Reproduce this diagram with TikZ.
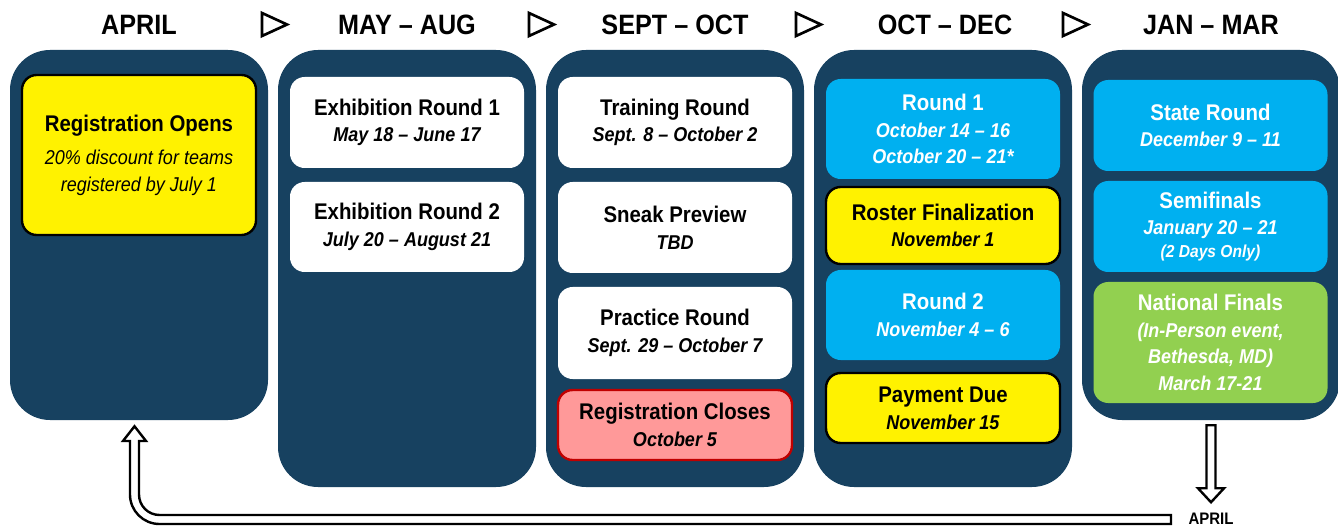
\documentclass[tikz,border=0pt]{standalone}
\usepackage{fontspec}
\setmainfont{Liberation Sans}[FakeStretch=0.9]
\usetikzlibrary{calc}
\definecolor{panelblue}{RGB}{23,65,96}
\definecolor{cyanbox}{RGB}{0,176,240}
\definecolor{greenbox}{RGB}{146,208,80}
\definecolor{pinkbox}{RGB}{255,153,153}
\definecolor{darkredline}{RGB}{192,0,0}
\newcommand\ttl{\fontsize{17}{20}\selectfont\bfseries\upshape}
\newcommand\dte{\fontsize{15}{20}\selectfont\bfseries\itshape}
\newcommand\dtn{\fontsize{15}{20}\selectfont\mdseries\itshape}
\newcommand\sml{\fontsize{13}{18}\selectfont\bfseries\itshape}
\begin{document}
\begin{tikzpicture}[x=0.75pt,y=-0.75pt,
  panel/.style={fill=panelblue, rounded corners=30pt, minimum width=193.5pt, inner sep=0pt},
  evbox/.style={rounded corners=11pt, minimum width=175.5pt, inner sep=0pt, align=center, font=\dte},
  whitebox/.style={evbox, fill=white, text=black},
  bluebox/.style={evbox, fill=cyanbox, text=white},
  greenev/.style={evbox, fill=greenbox, text=white},
  yellowbox/.style={evbox, fill=yellow, draw=black, line width=1.8pt, text=black},
  pinkev/.style={evbox, fill=pinkbox, draw=darkredline, line width=1.8pt, text=black},
  hdr/.style={anchor=base, font=\fontsize{21}{24}\selectfont\bfseries, inner sep=0pt},
  tri/.style={draw=black, line width=2pt, line join=miter},
  hollow/.style={draw=black, fill=white, line width=1.8pt, line join=miter}
]
\useasboundingbox (0,0) rectangle (1338,527);

% headers
\node[hdr] (h1) at (139,35) {APRIL};
\node[hdr] (h2) at (407,35) {MAY – AUG};
\node[hdr] (h3) at (675,35) {SEPT – OCT};
\node[hdr] (h4) at (945,35) {OCT – DEC};
\node[hdr] (h5) at (1211,35) {JAN – MAR};
\foreach \dx in {0,267,534,801}{
  \draw[tri] (262+\dx,13) -- (287+\dx,24.5) -- (262+\dx,36) -- cycle;
}

% panels
\node[panel, minimum height=277.5pt] (p1) at (139,235) {};
\node[panel, minimum height=327.75pt] (p2) at (407,268.5) {};
\node[panel, minimum height=327.75pt] (p3) at (675,268.5) {};
\node[panel, minimum height=327.75pt] (p4) at (943,268.5) {};
\node[panel, minimum height=277.5pt] (p5) at (1211,235) {};

% April
\node[yellowbox, minimum height=120pt] (regopen) at (139,155)
  {{\ttl Registration Opens}\\[5pt]{\dtn 20\% discount for teams}\\{\dtn registered by July 1}};

% May - Aug
\node[whitebox, minimum height=68.25pt] (ex1) at (407,122.5)
  {{\ttl Exhibition Round 1}\\May 18 – June 17};
\node[whitebox, minimum height=67.5pt] (ex2) at (407,227)
  {{\ttl Exhibition Round 2}\\July 20 – August 21};

% Sept - Oct
\node[whitebox, minimum height=68.25pt] (train) at (675,122.5)
  {{\ttl Training Round}\\Sept. 8 – October 2};
\node[whitebox, minimum height=68.25pt] (sneak) at (675,227.5)
  {{\ttl Sneak Preview}\\TBD};
\node[whitebox, minimum height=69pt] (pract) at (675,333)
  {{\ttl Practice Round}\\Sept. 29 – October 7};
\node[pinkev, minimum height=52.5pt] (regclose) at (675,425)
  {{\ttl Registration Closes}\\October 5};

% Oct - Dec
\node[bluebox, minimum height=75pt] (r1) at (943,129)
  {{\ttl Round 1}\\October 14 – 16\\October 20 – 21*};
\node[yellowbox, minimum height=57.75pt] (roster) at (943,225.5)
  {{\ttl Roster Finalization}\\November 1};
\node[bluebox, minimum height=67.5pt] (r2) at (943,315)
  {{\ttl Round 2}\\November 4 – 6};
\node[yellowbox, minimum height=52.5pt] (pay) at (943,408)
  {{\ttl Payment Due}\\November 15};

% Jan - Mar
\node[bluebox, minimum height=68.25pt] (state) at (1210.5,125.5)
  {{\ttl State Round}\\December 9 – 11};
\node[bluebox, minimum height=68.25pt] (semi) at (1210.5,226.5)
  {{\ttl Semifinals}\\January 20 – 21\\[-3pt]{\sml (2 Days Only)}};
\node[greenev, minimum height=90.75pt] (natl) at (1210.5,342.5)
  {{\ttl National Finals}\\(In-Person event,\\Bethesda, MD)\\March 17-21};

% bottom label
\node[anchor=base, font=\fontsize{12.5}{14}\selectfont\bfseries, inner sep=0pt] (aprilnote) at (1211,524) {APRIL};

% down arrow from Jan-Mar panel to the APRIL note
\begin{scope}[shift={(p5.south)}]
  \draw[hollow] (-4.5,5) -- (4.5,5) -- (4.5,68) -- (13,68) -- (0,82) -- (-13,68) -- (-4.5,68) -- cycle;
\end{scope}

% return arrow to the April panel
\coordinate (retstart) at (1171,519.5);
\draw[hollow] ($(retstart)+(0,-4.5)$) -- (159.5,515) arc[start angle=90, end angle=180, radius=20.5]
  -- (139,441) -- (146,441) -- ($(p1.south)+(-4.5,6)$) -- (123,441) -- (130,441) -- (130,494.5)
  arc[start angle=180, end angle=90, radius=29.5] -- ($(retstart)+(0,4.5)$) -- cycle;
\end{tikzpicture}
\end{document}
